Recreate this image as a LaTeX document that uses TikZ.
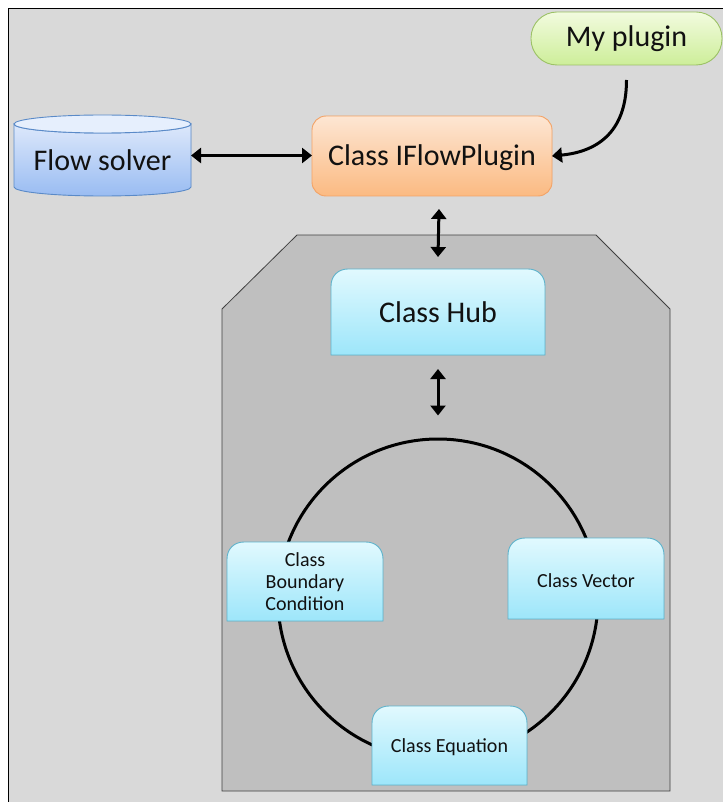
\documentclass[tikz,border=0pt]{standalone}
\usepackage{fontspec}
\setmainfont{Carlito}
\usetikzlibrary{arrows.meta,backgrounds}
\definecolor{bggray}{HTML}{D9D9D9}
\definecolor{octgray}{HTML}{BFBFBF}
\definecolor{orTop}{HTML}{FDE6D3}
\definecolor{orBot}{HTML}{FBBA82}
\definecolor{orBrd}{HTML}{F4A366}
\definecolor{cyTop}{HTML}{E1F9FE}
\definecolor{cyBot}{HTML}{9DE6FA}
\definecolor{cyBrd}{HTML}{5EB3CC}
\definecolor{grTop}{HTML}{F2FBDF}
\definecolor{grBot}{HTML}{CDEE99}
\definecolor{grBrd}{HTML}{9CC266}
\definecolor{blTop}{HTML}{DDE8FB}
\definecolor{blBot}{HTML}{99BCF2}
\definecolor{blBrd}{HTML}{5A8AC8}
\definecolor{blCap}{HTML}{E6EFFD}
\definecolor{txt}{HTML}{111111}
\newcommand\rtpath[1]{(#1.south west) -- ([yshift=-17pt]#1.north west) .. controls ([yshift=-7pt]#1.north west) and ([xshift=7pt]#1.north west) .. ([xshift=17pt]#1.north west) -- ([xshift=-17pt]#1.north east) .. controls ([xshift=-7pt]#1.north east) and ([yshift=-7pt]#1.north east) .. ([yshift=-17pt]#1.north east) -- (#1.south east) -- cycle}
\newcommand\rtbox[1]{%
  \fill[black,opacity=.22,shift={(1.5,2.5)}] \rtpath{#1};
  \shade[top color=cyTop,bottom color=cyBot,draw=cyBrd,line width=0.9pt] \rtpath{#1};}
\begin{document}
\begin{tikzpicture}[x=1pt,y=-1pt,
  big/.style={inner sep=0pt,outer sep=0pt,text=txt,font=\fontsize{30}{36}\selectfont,align=center},
  sml/.style={inner sep=0pt,outer sep=0pt,text=txt,font=\fontsize{20}{22}\selectfont,align=center},
  conn/.style={line width=3pt,{Triangle[length=10pt,width=15pt]}-{Triangle[length=10pt,width=15pt]}},
  oneway/.style={line width=3pt,-{Triangle[length=10pt,width=15pt]}}]
\useasboundingbox (0,0) rectangle (723,802);
% nodes
\node[big,minimum width=191pt,minimum height=53pt] (myp) at (626.5,38.5) {My plugin};
\node[big,minimum width=240pt,minimum height=80pt] (ifp) at (432,156) {\raisebox{-2pt}[\height][\depth]{Class IFlowPlugin}};
\node[big,minimum width=177pt,minimum height=81pt] (fs) at (102.5,155.5) {\raisebox{-5pt}[\height][\depth]{Flow solver}};
\node[big,minimum width=214pt,minimum height=86pt] (hub) at (438,312) {Class Hub};
\node[circle,inner sep=0pt,outer sep=0pt,minimum size=323pt] (ring) at (438,599) {};
\node[sml,minimum width=156pt,minimum height=79pt] (bc) at (305,581.5) {Class\\Boundary\\Condition};
\node[sml,minimum width=156pt,minimum height=81pt] (vec) at (586,578.5) {\raisebox{-2pt}[\height][\depth]{Class Vector}};
\node[sml,minimum width=155pt,minimum height=79pt] (eq) at (449.5,745.5) {\raisebox{-2pt}[\height][\depth]{Class Equation}};
% shapes behind the texts
\begin{scope}[on background layer]
  \fill[bggray] (8,9) rectangle (723,802);
  \draw[line width=1pt] (8,802) -- (8,9) -- (723,9);
  \draw[fill=octgray,draw=black!75,line width=0.8pt] (222,309) -- (297,235) -- (596,235) -- (670,309) -- (670,791) -- (222,791) -- cycle;
  \draw[line width=3pt] (ring.center) circle (160);
  % my plugin
  \fill[black,opacity=.2,rounded corners=26pt,shift={(1.5,2.5)}] (myp.south west) rectangle (myp.north east);
  \shade[top color=grTop,bottom color=grBot,draw=grBrd,line width=0.9pt,rounded corners=26pt] (myp.south west) rectangle (myp.north east);
  % IFlowPlugin
  \fill[black,opacity=.2,rounded corners=14pt,shift={(1.5,2.5)}] (ifp.south west) rectangle (ifp.north east);
  \shade[top color=orTop,bottom color=orBot,draw=orBrd,line width=0.9pt,rounded corners=14pt] (ifp.south west) rectangle (ifp.north east);
  % flow solver cylinder
  \fill[black,opacity=.2,shift={(1.5,2.5)}] ([yshift=-9pt]fs.north west) -- ([yshift=9pt]fs.south west) arc[start angle=180,end angle=0,x radius=88.5,y radius=9] -- ([yshift=-9pt]fs.north east) -- cycle;
  \shade[top color=blTop,bottom color=blBot,draw=blBrd,line width=0.9pt] ([yshift=-9pt]fs.north west) -- ([yshift=9pt]fs.south west) arc[start angle=180,end angle=0,x radius=88.5,y radius=9] -- ([yshift=-9pt]fs.north east) arc[start angle=0,end angle=180,x radius=88.5,y radius=9] -- cycle;
  \draw[fill=blCap,draw=blBrd,line width=0.9pt] ([yshift=-9pt]fs.north) ellipse[x radius=88.5,y radius=9];
  % class boxes
  \rtbox{hub}
  \rtbox{bc}
  \rtbox{vec}
  \rtbox{eq}
\end{scope}
% connectors
\draw[conn] (fs.east) -- (fs.east -| ifp.west);
\draw[oneway] ([yshift=-15pt]myp.south) .. controls +(0,55) and +(42,-4) .. (ifp.east);
\draw[conn] ([xshift=7pt,yshift=-13pt]ifp.south) -- ([yshift=12pt]hub.north);
\draw[conn] ([yshift=-14pt]hub.south) -- ([yshift=22pt]ring.north);
\end{tikzpicture}
\end{document}
